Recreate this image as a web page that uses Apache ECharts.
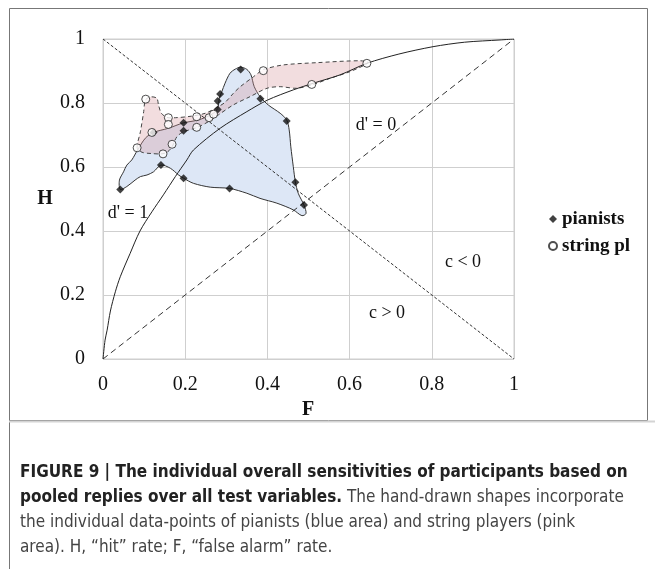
<!DOCTYPE html>
<html>
<head>
<meta charset="utf-8">
<title>Figure 9</title>
<script src="https://cdn.jsdelivr.net/npm/echarts@6/dist/echarts.min.js"></script>
<style>
    html, body { margin: 0; padding: 0; background: #fff; }
    #chart { width: 655px; height: 569px; }
</style>
</head>
<body>
<div id="chart"></div>
<script>
    // F = "false alarm" rate, H = "hit" rate
    var pianistF = [0.042, 0.141, 0.196, 0.308, 0.468, 0.489, 0.447, 0.383, 0.335, 0.285, 0.279, 0.279, 0.196, 0.196, 0.123];
    var pianistH = [0.530, 0.606, 0.565, 0.533, 0.552, 0.481, 0.744, 0.813, 0.905, 0.828, 0.806, 0.780, 0.738, 0.713, 0.708];

    var stringF = [0.104, 0.083, 0.119, 0.146, 0.168, 0.159, 0.159, 0.228, 0.228, 0.258, 0.269, 0.390, 0.508, 0.642];
    var stringH = [0.812, 0.660, 0.708, 0.641, 0.671, 0.754, 0.733, 0.757, 0.724, 0.754, 0.765, 0.901, 0.858, 0.924];

    // hand-drawn outline of the pianists (blue area)
    var pianistAreaF = [0.042, 0.040, 0.050, 0.058, 0.070, 0.084, 0.103, 0.123, 0.159, 0.196, 0.232, 0.265, 0.279, 0.283, 0.289,
        0.297, 0.309, 0.322, 0.335, 0.350, 0.360, 0.368, 0.382, 0.402, 0.431, 0.447, 0.453, 0.457, 0.463, 0.468, 0.475,
        0.489, 0.494, 0.484, 0.463, 0.423, 0.382, 0.350, 0.308, 0.261, 0.220, 0.196, 0.184, 0.164, 0.141, 0.123, 0.107,
        0.091, 0.078, 0.058];
    var pianistAreaH = [0.530, 0.559, 0.585, 0.606, 0.622, 0.653, 0.690, 0.708, 0.721, 0.738, 0.747, 0.765, 0.783, 0.815, 0.835,
        0.862, 0.893, 0.906, 0.912, 0.905, 0.888, 0.851, 0.820, 0.794, 0.768, 0.747, 0.716, 0.663, 0.601, 0.554, 0.518,
        0.481, 0.455, 0.448, 0.466, 0.487, 0.502, 0.518, 0.533, 0.537, 0.549, 0.565, 0.575, 0.596, 0.606, 0.585, 0.575,
        0.570, 0.559, 0.539];

    // hand-drawn outline of the string players (pink area)
    var stringAreaF = [0.083, 0.091, 0.099, 0.103, 0.115, 0.131, 0.135, 0.142, 0.156, 0.176, 0.216, 0.249, 0.273, 0.297, 0.317,
        0.334, 0.366, 0.382, 0.390, 0.439, 0.520, 0.625, 0.645, 0.601, 0.552, 0.512, 0.471, 0.431, 0.399, 0.358, 0.317,
        0.281, 0.257, 0.228, 0.196, 0.180, 0.168, 0.156, 0.143, 0.119, 0.095];
    var stringAreaH = [0.660, 0.710, 0.773, 0.809, 0.819, 0.815, 0.794, 0.768, 0.755, 0.754, 0.759, 0.768, 0.783, 0.802, 0.830,
        0.851, 0.882, 0.898, 0.905, 0.919, 0.926, 0.932, 0.926, 0.898, 0.877, 0.858, 0.846, 0.851, 0.846, 0.820, 0.794,
        0.763, 0.742, 0.723, 0.710, 0.695, 0.663, 0.646, 0.641, 0.642, 0.646];

    // d' = 1 curve as drawn in the figure
    var curveF = [0, 0.005, 0.010, 0.018, 0.030, 0.042, 0.066, 0.090, 0.119, 0.147, 0.176, 0.204, 0.220, 0.285, 0.350,
        0.400, 0.463, 0.512, 0.577, 0.642, 0.720, 0.803, 0.880, 0.966, 1];
    var curveH = [0, 0.059, 0.090, 0.150, 0.210, 0.257, 0.330, 0.400, 0.460, 0.513, 0.570, 0.622, 0.653, 0.721, 0.773,
        0.809, 0.841, 0.862, 0.888, 0.924, 0.953, 0.976, 0.990, 0.997, 1];

    // d' = 0 diagonal and c = 0 diagonal
    var chanceF = [0, 1], chanceH = [0, 1];
    var neutralF = [0, 1], neutralH = [1, 0];

    function zip(a, b) {
        return a.map(function (v, i) { return [v, b[i]]; });
    }

    // draws a closed outline once, from the whole list of points
    function outline(fs, hs, style) {
        return function (params, api) {
            if (params.dataIndex !== 0) return;
            var pts = fs.map(function (f, i) { return api.coord([f, hs[i]]); });
            return {type: 'polygon', shape: {points: pts, smooth: 0.3}, style: style};
        };
    }

    var serif = "'Liberation Serif', 'DejaVu Serif', serif";
    var narrow = "'Liberation Sans Narrow', 'DejaVu Sans Condensed', 'Liberation Sans', sans-serif";
    var gridColor = '#cfcfcf';

    var chart = echarts.init(document.getElementById('chart'));

    var option = {
        animation: false,
        grid: {left: 103, right: 141, top: 39, bottom: 210, show: true, borderColor: gridColor, borderWidth: 1},
        legend: {
            orient: 'vertical', left: 543, top: 204, itemWidth: 8, itemHeight: 8, itemGap: 7,
            textStyle: {fontFamily: serif, fontWeight: 'bold', fontSize: 19, color: '#111', lineHeight: 20},
            data: [{name: 'pianists', icon: 'diamond'}, {name: 'string pl', icon: 'circle'}]
        },
        xAxis: {
            type: 'value', min: 0, max: 1, interval: 0.2,
            axisLine: {show: false}, axisTick: {show: false},
            splitLine: {lineStyle: {color: gridColor}},
            axisLabel: {fontFamily: serif, fontSize: 20, color: '#111', margin: 16}
        },
        yAxis: {
            type: 'value', min: 0, max: 1, interval: 0.2,
            axisLine: {show: false}, axisTick: {show: false},
            splitLine: {lineStyle: {color: gridColor}},
            axisLabel: {fontFamily: serif, fontSize: 20, color: '#111', margin: 18}
        },
        series: [
            {
                type: 'custom', name: 'pianist area', z: 1, silent: true,
                data: zip(pianistAreaF, pianistAreaH),
                renderItem: outline(pianistAreaF, pianistAreaH,
                    {fill: '#dde7f6', stroke: '#333', lineWidth: 1})
            },
            {
                type: 'custom', name: 'string area', z: 1, silent: true,
                data: zip(stringAreaF, stringAreaH),
                renderItem: outline(stringAreaF, stringAreaH,
                    {fill: 'rgba(214,150,155,0.32)', stroke: '#444', lineWidth: 1, lineDash: [4, 3]})
            },
            {
                type: 'line', z: 2, silent: true, symbol: 'none',
                data: zip(chanceF, chanceH),
                lineStyle: {color: '#333', width: 1, type: [6, 4]}
            },
            {
                type: 'line', z: 2, silent: true, symbol: 'none',
                data: zip(neutralF, neutralH),
                lineStyle: {color: '#333', width: 1, type: [3, 2]}
            },
            {
                type: 'line', z: 2, silent: true, symbol: 'none', smooth: 0.3,
                data: zip(curveF, curveH),
                lineStyle: {color: '#222', width: 1}
            },
            {
                type: 'scatter', name: 'pianists', z: 3, symbol: 'diamond', symbolSize: 8,
                data: zip(pianistF, pianistH),
                itemStyle: {color: '#111'}
            },
            {
                type: 'scatter', name: 'string pl', z: 3, symbol: 'circle', symbolSize: 8,
                data: zip(stringF, stringH),
                itemStyle: {color: '#fff', borderColor: '#222', borderWidth: 1}
            }
        ],
        graphic: [
            // figure frame
            {type: 'rect', shape: {x: 9.5, y: 8.5, width: 638, height: 412}, style: {fill: null, stroke: '#777', lineWidth: 1}},
            {type: 'line', shape: {x1: 9.5, y1: 420, x2: 9.5, y2: 569}, style: {stroke: '#777', lineWidth: 1}},
            {type: 'line', shape: {x1: 9, y1: 421.5, x2: 655, y2: 421.5}, style: {stroke: '#d4d4d4', lineWidth: 2}},
            // axis titles
            {type: 'text', x: 308, y: 410, style: {text: 'F', font: 'bold 20px ' + serif, fill: '#111', align: 'center', verticalAlign: 'middle'}},
            {type: 'text', x: 45, y: 199, style: {text: 'H', font: 'bold 20px ' + serif, fill: '#111', align: 'center', verticalAlign: 'middle'}},
            // annotations
            {type: 'text', x: 376, y: 125, style: {text: "d' = 0", font: '18px ' + serif, fill: '#111', align: 'center', verticalAlign: 'middle'}},
            {type: 'text', x: 128, y: 213, style: {text: "d' = 1", font: '18px ' + serif, fill: '#111', align: 'center', verticalAlign: 'middle'}},
            {type: 'text', x: 463, y: 262, style: {text: 'c < 0', font: '18px ' + serif, fill: '#111', align: 'center', verticalAlign: 'middle'}},
            {type: 'text', x: 387, y: 313, style: {text: 'c > 0', font: '18px ' + serif, fill: '#111', align: 'center', verticalAlign: 'middle'}},
            // caption
            {type: 'text', x: 20, y: 473, style: {
                text: 'FIGURE 9 | The individual overall sensitivities of participants based on',
                font: 'bold 17px ' + narrow, fill: '#222', verticalAlign: 'middle'}},
            {type: 'text', x: 20, y: 498, style: {
                text: '{b|pooled replies over all test variables.} The hand-drawn shapes incorporate',
                font: '17px ' + narrow, fill: '#444', verticalAlign: 'middle',
                rich: {b: {font: 'bold 17px ' + narrow, fill: '#222'}}}},
            {type: 'text', x: 20, y: 523, style: {
                text: 'the individual data-points of pianists (blue area) and string players (pink',
                font: '17px ' + narrow, fill: '#444', verticalAlign: 'middle'}},
            {type: 'text', x: 20, y: 548, style: {
                text: 'area). H, \u201chit\u201d rate; F, \u201cfalse alarm\u201d rate.',
                font: '17px ' + narrow, fill: '#444', verticalAlign: 'middle'}}
        ]
    };

    chart.setOption(option);
</script>
</body>
</html>
